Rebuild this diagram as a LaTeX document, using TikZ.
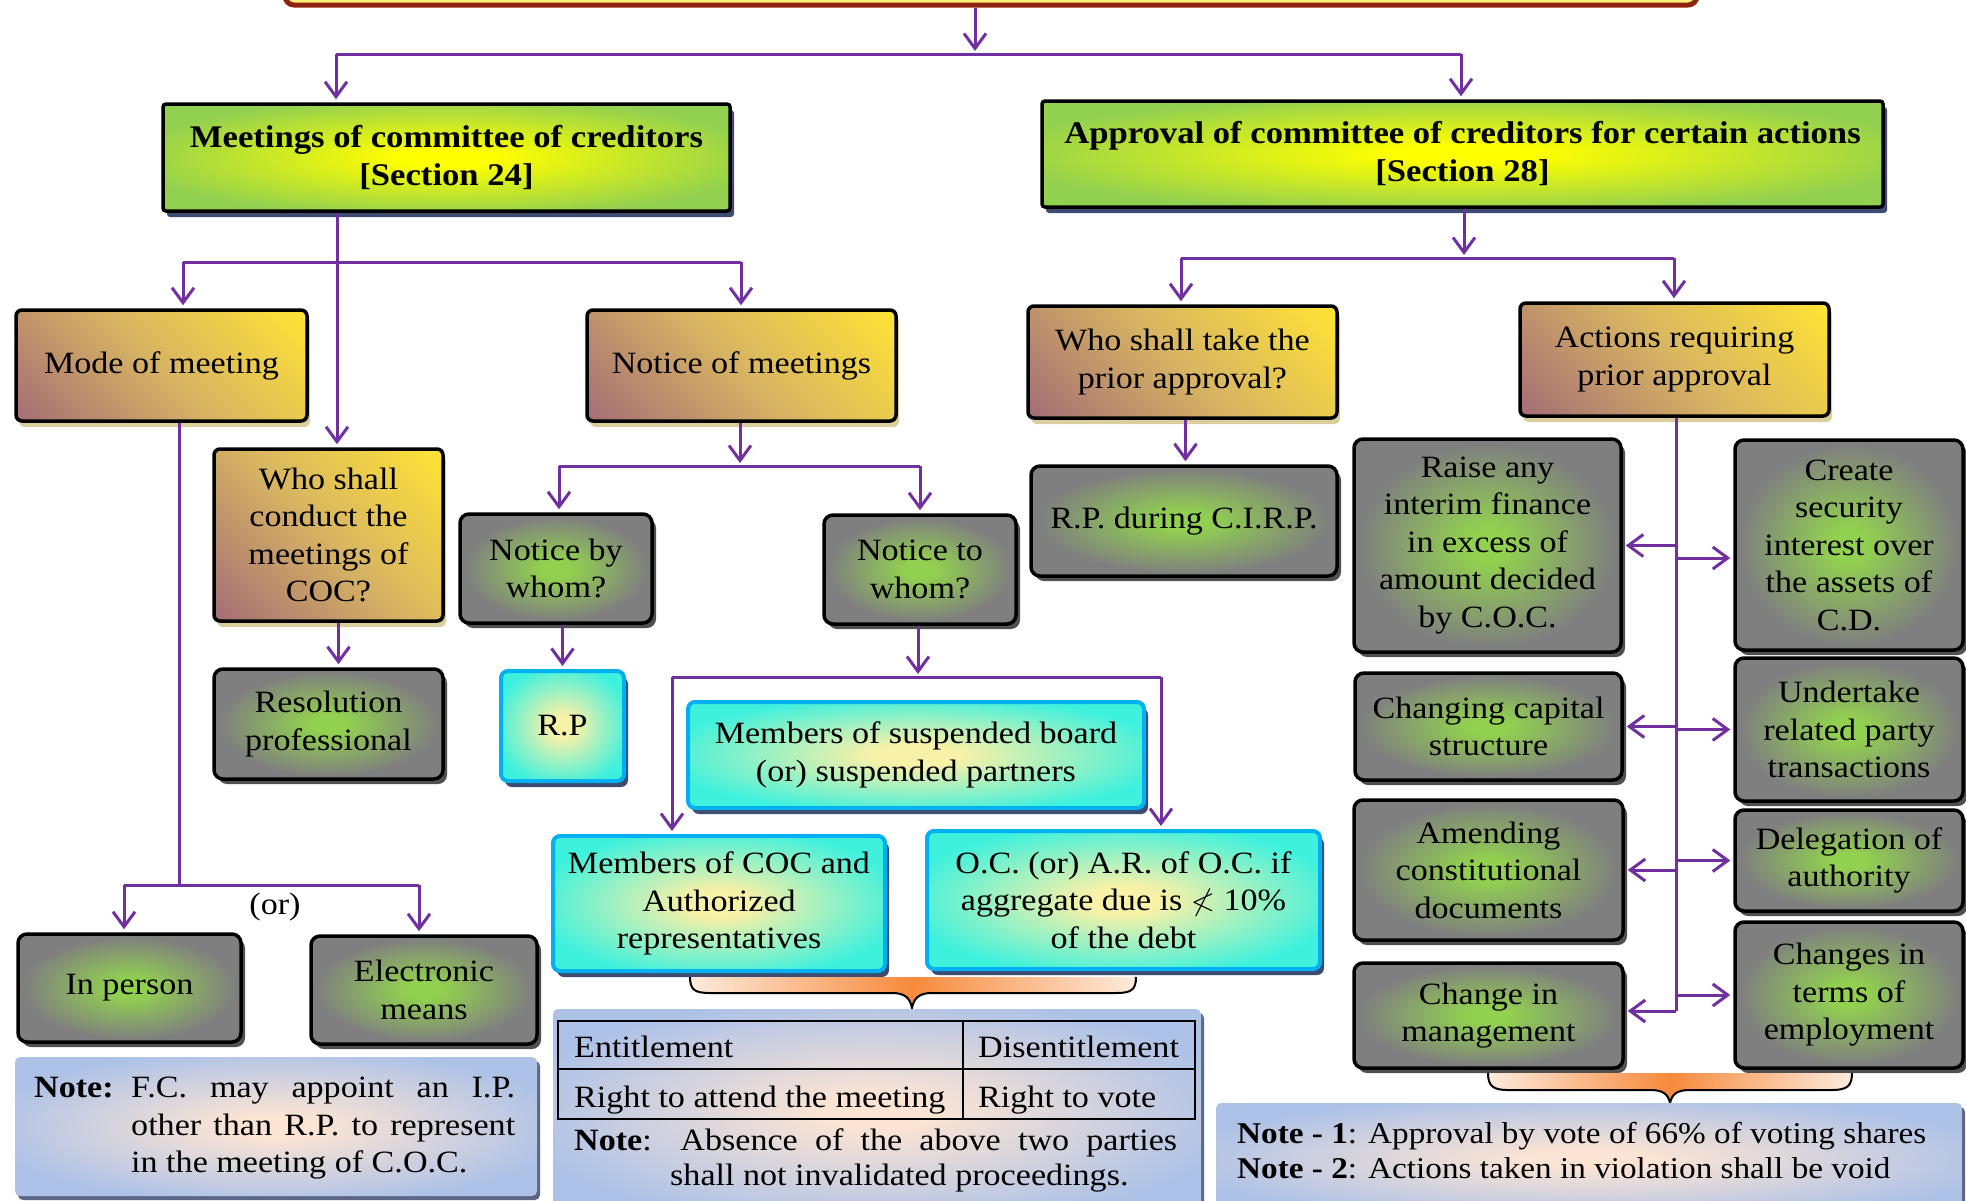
\documentclass[tikz,border=0pt]{standalone}
\usepackage{fontspec}
\usepackage{amssymb}
\setmainfont{Liberation Serif}[FakeStretch=1.1]
\usetikzlibrary{arrows.meta,shadows}

% palette
\definecolor{arrowpurple}{HTML}{7030A0}
\definecolor{boxgray}{HTML}{7F7F7F}
\definecolor{boxgreen}{HTML}{92D050}
\definecolor{titlegreen}{HTML}{92D050}
\definecolor{titleyellow}{HTML}{FFFF00}
\definecolor{goldtop}{HTML}{FFE335}
\definecolor{goldmid}{HTML}{D8B562}
\definecolor{goldlow}{HTML}{9A5F7A}
\definecolor{cyanedge}{HTML}{3EF1DD}
\definecolor{cyancore}{HTML}{F8F1A8}
\definecolor{cyanborder}{HTML}{00B0F0}
\definecolor{noteblue}{HTML}{AEC2E7}
\definecolor{notepeach}{HTML}{FBE4D4}
\definecolor{navyshadow}{HTML}{3F4C72}
\definecolor{beigeshadow}{HTML}{D9CE9C}
\definecolor{grayshadow}{HTML}{505050}
\definecolor{bracedeep}{HTML}{F78A3C}
\definecolor{bracelight}{HTML}{FDEBDD}
\definecolor{topfill}{HTML}{FFEE77}
\definecolor{topborder}{HTML}{8E2410}

% glows and ramps used inside the boxes
\pgfdeclareradialshading{grayglow}{\pgfpoint{0bp}{0bp}}{color(0bp)=(boxgreen); color(4bp)=(boxgreen); color(24bp)=(boxgray); color(50bp)=(boxgray)}
\pgfdeclareradialshading{titleglow}{\pgfpoint{0bp}{0bp}}{color(0bp)=(titleyellow); color(4bp)=(titleyellow); color(28bp)=(titlegreen); color(50bp)=(titlegreen)}
\pgfdeclareradialshading{cyanglow}{\pgfpoint{0bp}{0bp}}{color(0bp)=(cyancore); color(5bp)=(cyancore); color(28bp)=(cyanedge); color(50bp)=(cyanedge)}
\pgfdeclareradialshading{noteglow}{\pgfpoint{0bp}{0bp}}{color(0bp)=(notepeach); color(4bp)=(notepeach); color(28bp)=(noteblue); color(50bp)=(noteblue)}
\pgfdeclareverticalshading{goldramp}{100bp}{color(0bp)=(goldlow); color(8bp)=(goldlow); color(50bp)=(goldmid); color(85bp)=(goldtop); color(100bp)=(goldtop)}

\tikzset{
  boxbase/.style={inner sep=0pt, align=center, line width=3.5pt},
  topbox/.style={draw=topborder, fill=topfill, line width=5pt, rounded corners=9pt},
  titlebox/.style={boxbase, draw=black, rounded corners=3pt, shade, shading=titleglow,
    font=\fontsize{31.5}{38}\selectfont\bfseries,
    drop shadow={shadow xshift=4pt, shadow yshift=-6pt, fill=navyshadow, opacity=1}},
  goldbox/.style={boxbase, draw=black, rounded corners=6pt,
    shade, shading=goldramp, shading angle=-45,
    drop shadow={shadow xshift=3pt, shadow yshift=-6pt, fill=beigeshadow, opacity=1}},
  graybox/.style={boxbase, draw=black, rounded corners=9pt, shade, shading=grayglow,
    drop shadow={shadow xshift=4pt, shadow yshift=-5pt, fill=grayshadow, opacity=1}},
  cyanbox/.style={boxbase, draw=cyanborder, line width=4pt, rounded corners=7pt, shade, shading=cyanglow,
    drop shadow={shadow xshift=4pt, shadow yshift=-6pt, fill=navyshadow, opacity=1}},
  notebox/.style={inner sep=0pt, rounded corners=5pt, shade, shading=noteglow,
    drop shadow={shadow xshift=3pt, shadow yshift=-4pt, fill=navyshadow!85, opacity=1}},
  line/.style={draw=arrowpurple, line width=3pt},
  arr/.style={line, shorten >=3pt, -{Straight Barb[length=15pt,width=22pt]}},
  txt/.style={inner sep=0pt, anchor=base west},
  bracefill/.style={left color=bracelight, right color=bracelight, middle color=bracedeep},
  braceline/.style={draw=black, line width=2pt},
}

\begin{document}
\begin{tikzpicture}[x=1pt,y=-1pt,font=\fontsize{31}{37.5}\selectfont]
\clip (0,0) rectangle (1966,1200);
\fill[white] (0,0) rectangle (1966,1200);

% ---------- banner (only its lower edge shows) ----------
\node[topbox, minimum width=1412pt, minimum height=60pt] (top) at (991,-25) {};

% ---------- section boxes ----------
\node[titlebox, minimum width=567pt, minimum height=107pt] (meet) at (446.5,157.5)
  {Meetings of committee of creditors\\{[Section 24]}};
\node[titlebox, minimum width=841pt, minimum height=106pt] (appr) at (1462.5,154)
  {Approval of committee of creditors for certain actions\\{[Section 28]}};

% ---------- question boxes ----------
\node[goldbox, minimum width=291pt, minimum height=111pt] (mode) at (161.5,365.5) {Mode of meeting};
\node[goldbox, minimum width=309pt, minimum height=111pt] (notm) at (741.5,365.5) {Notice of meetings};
\node[goldbox, minimum width=309pt, minimum height=112pt] (whot) at (1182.5,362) {Who shall take the\\prior approval?};
\node[goldbox, minimum width=309pt, minimum height=113pt] (act) at (1674.5,359.5) {Actions requiring\\prior approval};
\node[goldbox, minimum width=229pt, minimum height=172pt] (whoc) at (328.5,535) {Who shall\\conduct the\\meetings of\\COC?};

% ---------- answer boxes ----------
\node[graybox, minimum width=192pt, minimum height=109pt] (notby) at (556,568.5) {Notice by\\whom?};
\node[graybox, minimum width=192pt, minimum height=109pt] (notto) at (920,569.5) {Notice to\\whom?};
\node[graybox, minimum width=306pt, minimum height=110pt] (rpc) at (1184,521) {R.P. during C.I.R.P.};
\node[graybox, minimum width=229pt, minimum height=110pt] (resp) at (328.5,724) {Resolution\\professional};
\node[graybox, minimum width=223pt, minimum height=108pt] (inp) at (129.5,988) {In person};
\node[graybox, minimum width=226pt, minimum height=108pt] (elec) at (424,990) {Electronic\\means};

\node[cyanbox, minimum width=123pt, minimum height=110pt] (rp) at (562.5,726) {R.P};
\node[cyanbox, minimum width=456pt, minimum height=106pt] (susp) at (916,755) {Members of suspended board\\(or) suspended partners};
\node[cyanbox, minimum width=332pt, minimum height=135pt] (coc) at (719,903.5) {Members of COC and\\Authorized\\representatives};
\node[cyanbox, minimum width=393pt, minimum height=138pt] (oc) at (1123.5,900) {O.C. (or) A.R. of O.C. if\\aggregate due is $\nless$ 10\%\\of the debt};

% ---------- actions needing approval ----------
\node[graybox, minimum width=267pt, minimum height=213pt] (raise) at (1487.5,545.5) {Raise any\\interim finance\\in excess of\\amount decided\\by C.O.C.};
\node[graybox, minimum width=228pt, minimum height=210pt] (create) at (1849,545) {Create\\security\\interest over\\the assets of\\C.D.};
\node[graybox, minimum width=267pt, minimum height=107pt] (capital) at (1488.5,726.5) {Changing capital\\structure};
\node[graybox, minimum width=228pt, minimum height=143pt] (under) at (1849,729.5) {Undertake\\related party\\transactions};
\node[graybox, minimum width=269pt, minimum height=140pt] (amend) at (1488.5,870) {Amending\\constitutional\\documents};
\node[graybox, minimum width=228pt, minimum height=101pt] (deleg) at (1849,860.5) {Delegation of\\authority};
\node[graybox, minimum width=269pt, minimum height=105pt] (mgmt) at (1488.5,1015.5) {Change in\\management};
\node[graybox, minimum width=228pt, minimum height=146pt] (terms) at (1849,995) {Changes in\\terms of\\employment};

% ---------- connectors ----------
\coordinate (jtop) at (975,54);
\coordinate (bl) at (336,54);
\coordinate (br) at (1461,54);
\draw[arr, shorten >=0pt] (top.south -| jtop) -- ([yshift=3pt]jtop);
\draw[line] (bl) -- (br);
\draw[arr] (bl) -- (bl |- meet.north);
\draw[arr] (br) -- (br |- appr.north);

\coordinate (m1) at (337,262);
\coordinate (ml) at (183,262);
\coordinate (mr) at (741,262);
\draw[arr] (meet.south -| m1) -- (m1 |- whoc.north);
\draw[line] (ml) -- (mr);
\draw[arr] (ml) -- (ml |- mode.north);
\draw[arr] (mr) -- (mr |- notm.north);

\coordinate (a0) at (1464,258);
\coordinate (al) at (1181,258);
\coordinate (ar) at (1674,258);
\draw[arr, shorten >=0pt] (appr.south -| a0) -- ([yshift=3pt]a0);
\draw[line] (al) -- (ar);
\draw[arr] (al) -- (al |- whot.north);
\draw[arr] (ar) -- (ar |- act.north);

\coordinate (d0) at (179,885);
\coordinate (dl) at (124,885);
\coordinate (dr) at (419,885);
\draw[line] (mode.south -| d0) -- (d0);
\draw[line] (dl) -- (dr);
\draw[arr] (dl) -- (dl |- inp.north);
\draw[arr] (dr) -- (dr |- elec.north);
\node[inner sep=0pt] (orlbl) at (275,907) {(or)};

\draw[arr] ([xshift=10pt]whoc.south) -- ([xshift=10pt]resp.north);

\coordinate (n0) at (740,466);
\coordinate (nl) at (559,466);
\coordinate (nr) at (920,466);
\draw[arr, shorten >=0pt] (notm.south -| n0) -- ([yshift=3pt]n0);
\draw[line] (nl) -- (nr);
\draw[arr] (nl) -- (nl |- notby.north);
\draw[arr] (nr) -- (nr |- notto.north);

\draw[arr] (notby.south -| rp.north) -- (rp.north);

\coordinate (t0) at (918,677);
\coordinate (tl) at (672,677);
\coordinate (tr) at (1161,677);
\draw[arr, shorten >=0pt] (notto.south -| t0) -- ([yshift=3pt]t0);
\draw[line] (tl) -- (tr);
\draw[arr] (tl) -- (tl |- coc.north);
\draw[arr] (tr) -- (tr |- oc.north);

\draw[arr] ([xshift=3pt]whot.south) -- ([xshift=3pt]whot.south |- rpc.north);

\coordinate (s0) at (1676,1011);
\draw[line] (act.south -| s0) -- (s0);
\draw[arr] (raise.east -| s0) -- (raise.east);
\draw[arr] ([yshift=-13pt]create.west -| s0) -- ([yshift=-13pt]create.west);
\draw[arr] (capital.east -| s0) -- (capital.east);
\draw[arr] (under.west -| s0) -- (under.west);
\draw[arr] (amend.east -| s0) -- (amend.east);
\draw[arr] (deleg.west -| s0) -- (deleg.west);
\draw[arr] (s0) -- (s0 -| mgmt.east);
\draw[arr] (terms.west -| s0) -- (terms.west);

% ---------- braces ----------
\fill[bracefill] (690,977) .. controls (690,990) and (695,993) .. (710,993) -- (892,993)
  .. controls (905,993) and (910,998) .. (912,1008) .. controls (914,998) and (919,993) .. (932,993)
  -- (1116,993) .. controls (1131,993) and (1136,990) .. (1136,977) -- cycle;
\draw[braceline] (690,977) .. controls (690,990) and (695,993) .. (710,993) -- (892,993)
  .. controls (905,993) and (910,998) .. (912,1008) .. controls (914,998) and (919,993) .. (932,993)
  -- (1116,993) .. controls (1131,993) and (1136,990) .. (1136,977);

\fill[bracefill] (1488,1073) .. controls (1488,1086) and (1493,1090) .. (1508,1090) -- (1650,1090)
  .. controls (1663,1090) and (1668,1094) .. (1670,1103) .. controls (1672,1094) and (1677,1090) .. (1690,1090)
  -- (1832,1090) .. controls (1847,1090) and (1852,1086) .. (1852,1073) -- cycle;
\draw[braceline] (1488,1073) .. controls (1488,1086) and (1493,1090) .. (1508,1090) -- (1650,1090)
  .. controls (1663,1090) and (1668,1094) .. (1670,1103) .. controls (1672,1094) and (1677,1090) .. (1690,1090)
  -- (1832,1090) .. controls (1847,1090) and (1852,1086) .. (1852,1073);

% ---------- notes ----------
\node[notebox, minimum width=522pt, minimum height=139pt] (note1) at (276,1126.5) {};
\node[txt, font=\fontsize{31}{37.5}\selectfont\bfseries] (n1lbl) at (34,1097) {Note:};
\node[txt] (n1a) at (131,1097) {\makebox[384pt][s]{F.C. may appoint an I.P.}};
\node[txt] (n1b) at (131,1135) {\makebox[384pt][s]{other than R.P. to represent}};
\node[txt] (n1c) at (131,1172) {in the meeting of C.O.C.};

\node[notebox, minimum width=648pt, minimum height=206pt] (note2) at (877,1112) {};
\draw[line width=2.5pt] (558,1021) rectangle (1195,1119);
\draw[line width=2.5pt] (558,1069) -- (1195,1069);
\draw[line width=1.5pt] (963,1021) -- (963,1119);
\node[txt] (ent) at (574,1057) {Entitlement};
\node[txt] (dis) at (978,1057) {Disentitlement};
\node[txt] (att) at (574,1107) {Right to attend the meeting};
\node[txt] (vote) at (978,1107) {Right to vote};
\node[txt] (n2a) at (574,1150) {\makebox[603pt][s]{\textbf{Note}: Absence of the above two parties}};
\node[txt] (n2b) at (670,1185) {shall not invalidated proceedings.};

\node[notebox, minimum width=746pt, minimum height=112pt] (note3) at (1589,1159) {};
\node[txt, font=\fontsize{30.2}{37.5}\selectfont] (n3a) at (1237,1143) {\textbf{Note - 1}: Approval by vote of 66\% of voting shares};
\node[txt, font=\fontsize{30.2}{37.5}\selectfont] (n3b) at (1237,1178) {\textbf{Note - 2}: Actions taken in violation shall be void};
\end{tikzpicture}
\end{document}
